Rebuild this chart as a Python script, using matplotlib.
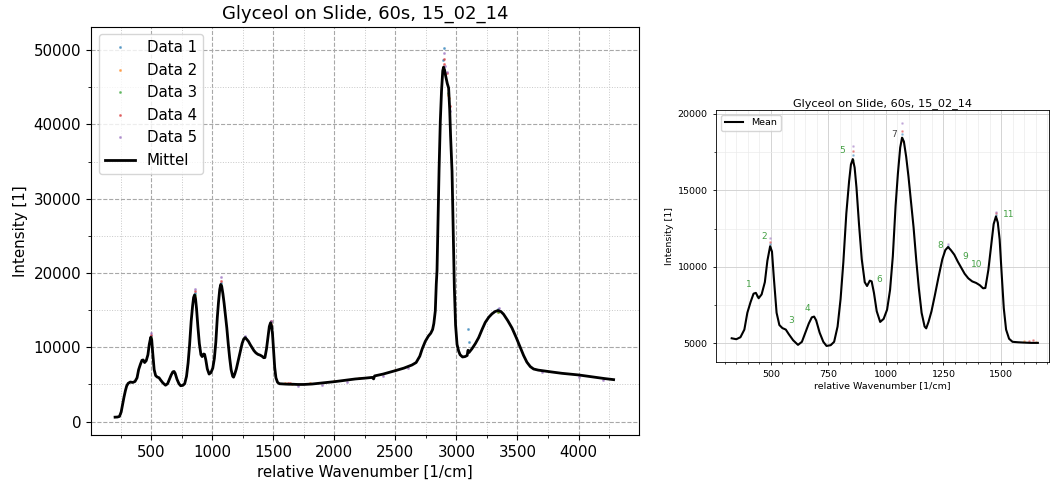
import matplotlib
matplotlib.use("Agg")
import matplotlib.pyplot as plt
from matplotlib.ticker import MultipleLocator

# ---------------- data ----------------
wavenumber = [205, 225, 241, 255, 265, 278, 290, 300, 312, 330, 350, 368, 385, 398,
              412, 425, 435, 447, 460, 474, 485, 497, 505, 513, 525, 537, 550, 565,
              578, 597, 618, 635, 650, 665, 678, 688, 697, 712, 728, 742, 760, 775,
              790, 803, 815, 828, 840, 848, 856, 864, 872, 883, 895, 908, 918, 930,
              938, 948, 960, 975, 990, 1005, 1018, 1030, 1042, 1052, 1062, 1070, 1078,
              1088, 1098, 1110, 1120, 1132, 1143, 1155, 1168, 1175, 1185, 1198, 1212,
              1228, 1245, 1258, 1270, 1282, 1297, 1312, 1327, 1342, 1358, 1375, 1392,
              1408, 1422, 1432, 1445, 1458, 1468, 1478, 1486, 1494, 1503, 1512, 1522,
              1535, 1550, 1575, 1600, 1630, 1660, 1700, 1750, 1818, 1900, 2003, 2100,
              2172, 2250, 2310, 2322, 2330, 2400, 2500, 2570, 2636, 2670, 2700, 2720,
              2745, 2770, 2790, 2805, 2815, 2827, 2835, 2841, 2849, 2858, 2868, 2878,
              2888, 2895, 2903, 2912, 2925, 2936, 2945, 2952, 2958, 2964, 2973, 2983,
              2993, 3005, 3018, 3030, 3050, 3070, 3088, 3095, 3103, 3127, 3155, 3182,
              3210, 3236, 3265, 3291, 3315, 3340, 3365, 3386, 3420, 3455, 3490, 3523,
              3550, 3577, 3605, 3632, 3670, 3700, 3780, 3864, 3940, 4000, 4070, 4137,
              4210, 4287]
mean_intensity = [600, 620, 700, 1300, 2200, 3300, 4200, 4800, 5150, 5330, 5270, 5400, 5900, 7000,
                  7700, 8250, 8300, 7950, 8200, 9000, 10400, 11350, 11000, 9300, 7000, 6200, 6000, 5900,
                  5600, 5200, 4900, 5100, 5700, 6300, 6700, 6750, 6500, 5700, 5100, 4830, 4880, 5100,
                  6100, 7900, 10300, 13500, 15600, 16700, 17050, 16500, 15200, 12800, 10500, 9000, 8750, 9100,
                  9050, 8300, 7100, 6400, 6600, 7200, 8500, 10700, 14000, 16100, 17800, 18450, 18200,
                  17200, 15900, 14100, 12600, 10400, 8600, 7000, 6100, 5980, 6400, 7100, 8100,
                  9300, 10500, 11100, 11300, 11100, 10800, 10350, 9950, 9550, 9250, 9050, 8950,
                  8800, 8600, 8620, 9800, 11500, 12800, 13300, 12900, 11800, 9500, 7300, 5900,
                  5300, 5100, 5070, 5050, 5030, 5030, 5000, 5000, 5060, 5200, 5380, 5580,
                  5740, 5850, 5950, 5750, 6150, 6400, 6860, 7200, 7620, 7950, 8800, 9800,
                  10800, 11500, 11900, 12400, 13200, 14900, 18500, 20300, 27000, 34000, 40400, 44500,
                  47200, 47700, 47300, 46500, 45500, 44900, 42000, 38500, 36000, 33700, 26000, 18000,
                  13000, 10400, 9500, 9000, 8700, 8750, 8900, 9600, 9300, 9800, 10500, 11300,
                  12400, 13350, 14050, 14500, 14800, 14950, 14800, 14450, 13600, 12600, 11300, 10000,
                  8900, 8000, 7400, 7080, 6930, 6860, 6680, 6500, 6380, 6280, 6120, 5960,
                  5800, 5650]

data1_x = [497, 856, 1070, 1270, 1478, 2893, 2900, 3097, 3099, 3340]
data1_y = [11500, 17300, 18700, 11350, 13400, 48600, 50300, 12450, 10650, 15100]
data2_x = [497, 856, 1070, 1478, 1600, 1650, 1800, 2000, 2200, 2500, 2905, 2930, 2940, 3340]
data2_y = [11200, 16800, 18200, 13100, 5150, 5100, 5200, 5500, 5850, 6950, 46800, 44000, 43600, 14700]
data3_x = [440, 497, 856, 1070, 2898, 2935, 3340]
data3_y = [8100, 11300, 17000, 18400, 47000, 44200, 14800]
data4_x = [497, 856, 1070, 1478, 1620, 1640, 2897, 2902, 2920, 2945]
data4_y = [11600, 17600, 18900, 13500, 5150, 5200, 48750, 48100, 46900, 42500]
data5_x = [497, 856, 1070, 1270, 1478, 1700, 1900, 2100, 2400, 2600, 2899, 2910, 2925, 2948,
           3345, 3700, 4000, 4200]
data5_y = [11900, 17900, 19400, 11500, 13600, 4800, 4950, 5300, 6150, 7250, 49650, 47800, 47000, 41800,
           15300, 6650, 6050, 5650]

series_x = [data1_x, data2_x, data3_x, data4_x, data5_x]
series_y = [data1_y, data2_y, data3_y, data4_y, data5_y]
series_names = ["Data 1", "Data 2", "Data 3", "Data 4", "Data 5"]
series_colors = ["C0", "C1", "C2", "C3", "C4"]

peak_numbers = ["1", "2", "3", "4", "5", "6", "7", "8", "9", "10", "11"]
peak_label_x = [404, 472, 588, 657, 808, 971, 1035, 1237, 1343, 1393, 1535]
peak_label_y = [8880, 11970, 6520, 7290, 17630, 9200, 18680, 11420, 10660, 10180, 13450]
peak_label_colors = ["#44a044"] * 6 + ["#444444"] + ["#44a044"] * 4

title = "Glyceol on Slide, 60s, 15_02_14"
xlabel = "relative Wavenumber [1/cm]"
ylabel = "Intensity [1]"

# ---------------- figure ----------------
fig = plt.figure(figsize=(10.51, 4.88), dpi=100)

# Left: full spectrum
ax1 = fig.add_axes([0.0866, 0.1086, 0.5214, 0.8361])
for xs, ys, name, col in zip(series_x, series_y, series_names, series_colors):
    ax1.plot(xs, ys, linestyle="none", marker=".", ms=2.3, color=col, alpha=0.5, label=name)
ax1.plot(wavenumber, mean_intensity, color="black", lw=2.0, label="Mittel")
ax1.set_xlim(8, 4495)
ax1.set_ylim(-1800, 53100)
ax1.xaxis.set_major_locator(MultipleLocator(500))
ax1.xaxis.set_minor_locator(MultipleLocator(250))
ax1.yaxis.set_major_locator(MultipleLocator(10000))
ax1.yaxis.set_minor_locator(MultipleLocator(5000))
ax1.grid(which="major", linestyle="--", color="#a8a8a8", lw=0.8)
ax1.grid(which="minor", linestyle=":", color="#c8c8c8", lw=0.7)
ax1.tick_params(labelsize=10.8)
ax1.set_title(title, fontsize=13)
ax1.set_xlabel(xlabel, fontsize=10.8)
ax1.set_ylabel(ylabel, fontsize=10.8)
ax1.legend(loc="upper left", fontsize=10.8, markerscale=1.0)

# Right: fingerprint region with peak numbers
fp_x = [w for w in wavenumber if 320 <= w <= 1665]
fp_y = [m for w, m in zip(wavenumber, mean_intensity) if 320 <= w <= 1665]
ax2 = fig.add_axes([0.6813, 0.2582, 0.3167, 0.5164])
for xs, ys, col in zip(series_x, series_y, series_colors):
    sel = [(a, b) for a, b in zip(xs, ys) if 320 <= a <= 1665]
    if sel:
        ax2.plot([a for a, _ in sel], [b for _, b in sel], linestyle="none", marker=".",
                 ms=2.0, color=col, alpha=0.35)
ax2.plot(fp_x, fp_y, color="black", lw=1.5, label="Mean")
for lab, lx, ly, lc in zip(peak_numbers, peak_label_x, peak_label_y, peak_label_colors):
    ax2.text(lx, ly, lab, fontsize=6.5, color=lc, ha="center", va="center")
ax2.set_xlim(262, 1708)
ax2.set_ylim(3780, 20260)
ax2.xaxis.set_major_locator(MultipleLocator(250))
ax2.xaxis.set_minor_locator(MultipleLocator(50))
ax2.yaxis.set_major_locator(MultipleLocator(5000))
ax2.yaxis.set_minor_locator(MultipleLocator(2500))
ax2.grid(which="major", linestyle="-", color="#d4d4d4", lw=0.7)
ax2.grid(which="minor", linestyle="-", color="#ebebeb", lw=0.5)
ax2.tick_params(which="major", labelsize=6.8, length=2.5, width=0.6)
ax2.tick_params(which="minor", length=1.5, width=0.5)
for sp in ax2.spines.values():
    sp.set_linewidth(0.6)
ax2.set_title(title, fontsize=8.1, pad=3)
ax2.set_xlabel(xlabel, fontsize=6.8, labelpad=1)
ax2.set_ylabel(ylabel, fontsize=6.8, labelpad=3)
ax2.legend(loc="upper left", fontsize=6.8, handlelength=2.0)

fig.savefig("out.png", dpi=100)
